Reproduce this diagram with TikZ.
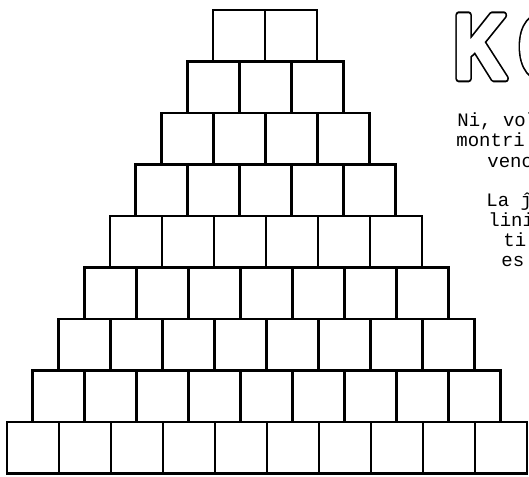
\documentclass[tikz,border=0pt]{standalone}
\usepackage{fontspec}
\setmonofont{Liberation Mono}
\newfontfamily\titlefont{Liberation Sans}
\usetikzlibrary{positioning}

% outlined letters: a wide black stroke, then a narrower white one on top
\newcommand{\hollow}[1]{%
  \rlap{\special{pdf:literal direct 2 Tr 7.5 w 1 j}#1}%
  {\color{white}\special{pdf:literal direct 2 Tr 3.6 w 1 j}#1}%
  \special{pdf:literal direct 0 Tr}}

\begin{document}
\begin{tikzpicture}[x=1pt, y=-1pt, line width=2.8pt]

        \tikzstyle{brick} = [draw, rectangle, inner sep=0pt, minimum width=52pt, minimum height=51.5pt]
        \tikzstyle{typed} = [anchor=base west, inner sep=0pt, font=\fontsize{19}{20}\selectfont\ttfamily]
        \tikzstyle{title} = [anchor=base west, inner sep=0pt, font=\fontsize{92}{92}\selectfont\titlefont\bfseries]

        \useasboundingbox (0,0) rectangle (529,476);

        % the pyramid, row r has r+1 bricks
        \foreach \r in {1,...,9} {
            \pgfmathtruncatemacro{\n}{\r+1}
            \foreach \c in {1,...,\n} {
                \node [brick] (b\r-\c) at ({239-(\r-1)*25.75+(\c-1)*52}, {35.75+(\r-1)*51.5}) {};
            }
        }

        \node [title] (head) at (452,78.5) {\scalebox{0.8}[1]{\hollow{K\kern15pt O}}};

        \node [typed] (ni) at (456,126) {Ni, vol};
        \node [typed] (montri) at (455,146) {montri};
        \node [typed] (venc) at (486,167) {venc};
        \node [typed] (la) at (485,206) {La ĵ};
        \node [typed] (lini) at (487,226) {lini};
        \node [typed] (ti) at (502,246) {ti};
        \node [typed] (es) at (500,266) {es};

\end{tikzpicture}
\end{document}
